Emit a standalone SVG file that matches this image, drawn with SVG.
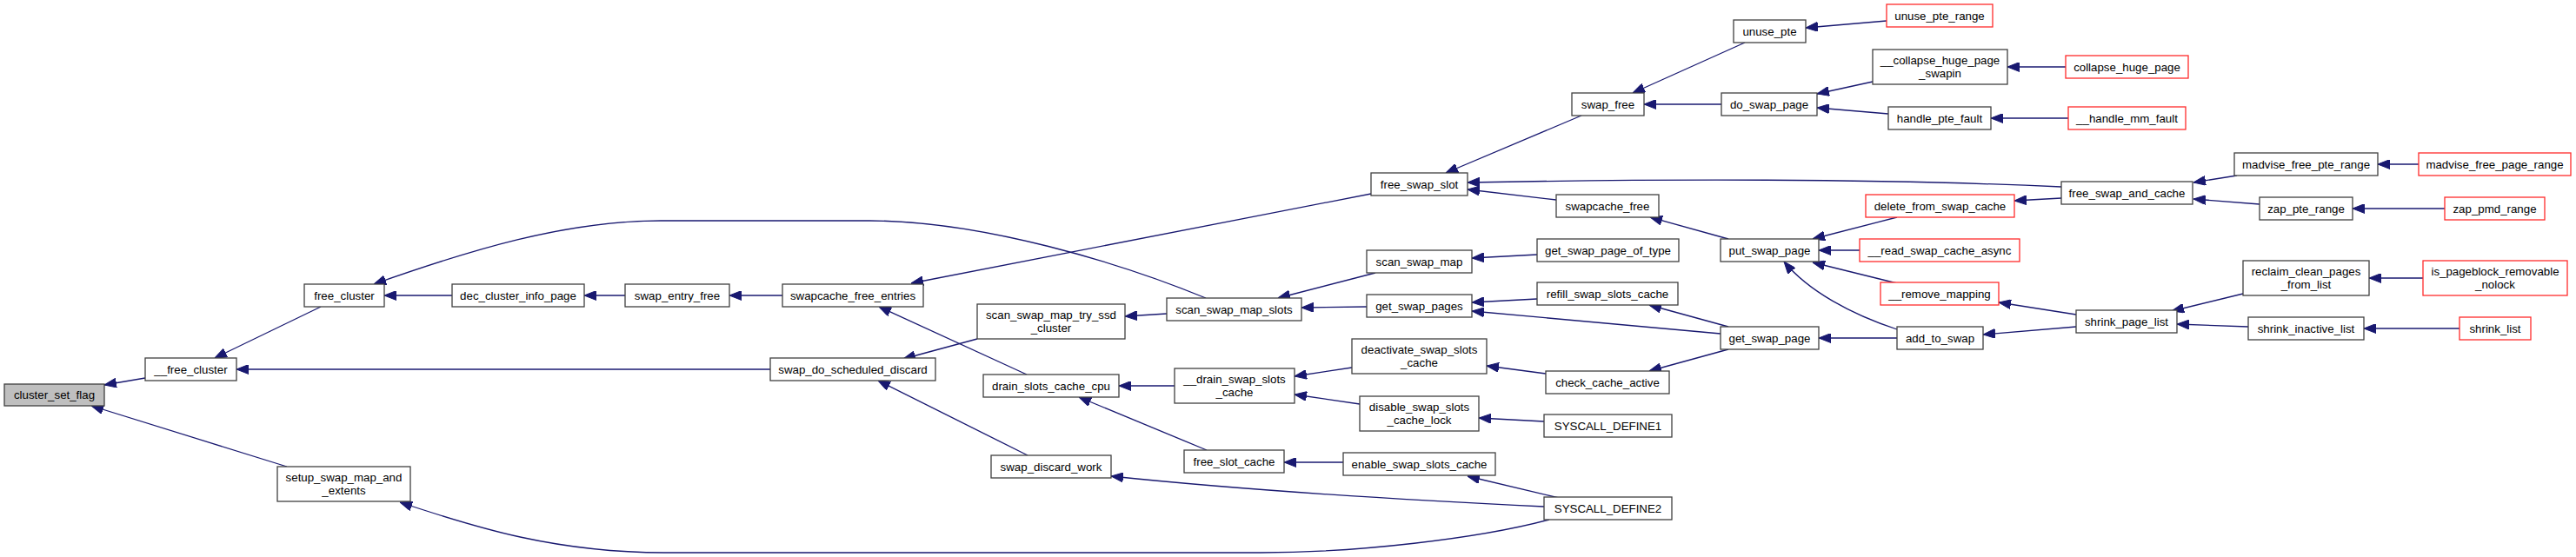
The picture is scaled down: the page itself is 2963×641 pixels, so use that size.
<svg xmlns="http://www.w3.org/2000/svg" width="2963" height="641" viewBox="0 0 2963 641">
<style>
.n rect{fill:#fff;stroke:#404040;stroke-width:1.3}
.n.r rect{stroke:#ff2b2b}
.n.h rect{fill:#bfbfbf}
text{font-family:"Liberation Sans",Arial,sans-serif;font-size:13.3px;text-anchor:middle;fill:#000}
#edges path{fill:none;stroke:#191970;stroke-width:1.3;marker-end:url(#a)}
</style>
<defs>
<marker id="a" markerUnits="userSpaceOnUse" markerWidth="14" markerHeight="11" refX="14" refY="5.5" orient="auto" viewBox="0 0 14 11"><path d="M0,0 L14,5.5 L0,11 z" fill="#191970" stroke="#191970" stroke-width="1"/></marker>
</defs>
<rect width="2963" height="641" fill="#fff"/>
<g id="edges">
<path d="M167,435 L120,443"/>
<path d="M330,537 L105,467"/>
<path d="M369,353 L247,412"/>
<path d="M886,425 L272,425"/>
<path d="M520,340 L442,340"/>
<path d="M1387,343 C1290,303 1130,254 1000,254 L760,254 C650,254 540,288 430,327"/>
<path d="M719,340 L672,340"/>
<path d="M900,340 L839,340"/>
<path d="M1577,223 L1048,326"/>
<path d="M1181,431 L1011,353"/>
<path d="M1124,390 L1039,413"/>
<path d="M1182,524 L1010,438"/>
<path d="M1782,598 C1700,620 1560,636 1450,636 L766,636 C640,636 550,608 460,578"/>
<path d="M1342,361 L1294,364"/>
<path d="M1351,444 L1287,444"/>
<path d="M1388,518 L1241,457"/>
<path d="M1776,583 C1650,577 1450,566 1278,548"/>
<path d="M1582,314 L1470,343"/>
<path d="M1572,353 L1497,354"/>
<path d="M1819,133 L1663,199"/>
<path d="M2371,215 C2150,205 1900,206 1688,210"/>
<path d="M1790,230 L1688,218"/>
<path d="M1768,293 L1693,297"/>
<path d="M1768,344 L1693,348"/>
<path d="M1979,384 L1693,358"/>
<path d="M1555,423 L1489,433"/>
<path d="M1564,465 L1489,454"/>
<path d="M1545,532 L1477,532"/>
<path d="M2007,49 L1878,107"/>
<path d="M1980,120 L1891,120"/>
<path d="M1988,275 L1898,250"/>
<path d="M1988,376 L1897,351"/>
<path d="M1778,430 L1710,421"/>
<path d="M1776,485 L1701,481"/>
<path d="M1793,573 L1688,548"/>
<path d="M1988,402 L1897,427"/>
<path d="M2170,24 L2077,32"/>
<path d="M2154,94 L2090,108"/>
<path d="M2172,131 L2090,124"/>
<path d="M2182,250 L2085,275"/>
<path d="M2139,288 L2092,288"/>
<path d="M2182,326 L2085,302"/>
<path d="M2182,379 C2130,362 2080,335 2052,301"/>
<path d="M2182,389 L2092,389"/>
<path d="M2376,77 L2309,77"/>
<path d="M2379,136 L2290,136"/>
<path d="M2371,228 L2317,231"/>
<path d="M2388,362 L2299,348"/>
<path d="M2388,376 L2281,385"/>
<path d="M2573,202 L2523,210"/>
<path d="M2599,235 L2523,229"/>
<path d="M2580,338 L2498,358"/>
<path d="M2586,376 L2504,373"/>
<path d="M2782,189 L2735,189"/>
<path d="M2812,240 L2706,240"/>
<path d="M2787,320 L2725,320"/>
<path d="M2829,378 L2719,378"/>
</g>
<g id="n_csf" class="n h"><rect x="5" y="442" width="115" height="25"/><text x="62.5" y="459">cluster_set_flag</text></g>
<g id="n_fc2" class="n"><rect x="167" y="412" width="105" height="26"/><text x="219.5" y="429.5">__free_cluster</text></g>
<g id="n_fc" class="n"><rect x="350" y="327" width="92" height="26"/><text x="396" y="344.5">free_cluster</text></g>
<g id="n_setup" class="n"><rect x="319" y="537" width="153" height="40"/><text x="395.5" y="553.5">setup_swap_map_and</text><text x="395.5" y="568.5">_extents</text></g>
<g id="n_dec" class="n"><rect x="520" y="327" width="152" height="26"/><text x="596" y="344.5">dec_cluster_info_page</text></g>
<g id="n_sef" class="n"><rect x="719" y="327" width="120" height="26"/><text x="779" y="344.5">swap_entry_free</text></g>
<g id="n_sfe" class="n"><rect x="900" y="327" width="162" height="26"/><text x="981" y="344.5">swapcache_free_entries</text></g>
<g id="n_sdsd" class="n"><rect x="886" y="412" width="190" height="26"/><text x="981" y="429.5">swap_do_scheduled_discard</text></g>
<g id="n_ssmtsc" class="n"><rect x="1124" y="350" width="170" height="40"/><text x="1209" y="366.5">scan_swap_map_try_ssd</text><text x="1209" y="381.5">_cluster</text></g>
<g id="n_dscc" class="n"><rect x="1131" y="431" width="156" height="26"/><text x="1209" y="448.5">drain_slots_cache_cpu</text></g>
<g id="n_sdw" class="n"><rect x="1140" y="524" width="138" height="26"/><text x="1209" y="541.5">swap_discard_work</text></g>
<g id="n_ssms" class="n"><rect x="1342" y="343" width="155" height="26"/><text x="1419.5" y="360.5">scan_swap_map_slots</text></g>
<g id="n_dsc" class="n"><rect x="1351" y="424" width="138" height="40"/><text x="1420" y="440.5">__drain_swap_slots</text><text x="1420" y="455.5">_cache</text></g>
<g id="n_fsc" class="n"><rect x="1362" y="518" width="115" height="26"/><text x="1419.5" y="535.5">free_slot_cache</text></g>
<g id="n_fss" class="n"><rect x="1577" y="199" width="111" height="26"/><text x="1632.5" y="216.5">free_swap_slot</text></g>
<g id="n_ssm" class="n"><rect x="1572" y="288" width="121" height="26"/><text x="1632.5" y="305.5">scan_swap_map</text></g>
<g id="n_gsps" class="n"><rect x="1572" y="339" width="121" height="26"/><text x="1632.5" y="356.5">get_swap_pages</text></g>
<g id="n_dssc" class="n"><rect x="1555" y="390" width="155" height="40"/><text x="1632.5" y="406.5">deactivate_swap_slots</text><text x="1632.5" y="421.5">_cache</text></g>
<g id="n_dsscl" class="n"><rect x="1564" y="456" width="137" height="40"/><text x="1632.5" y="472.5">disable_swap_slots</text><text x="1632.5" y="487.5">_cache_lock</text></g>
<g id="n_essc" class="n"><rect x="1545" y="521" width="175" height="26"/><text x="1632.5" y="538.5">enable_swap_slots_cache</text></g>
<g id="n_sf" class="n"><rect x="1808" y="107" width="83" height="26"/><text x="1849.5" y="124.5">swap_free</text></g>
<g id="n_scf" class="n"><rect x="1790" y="224" width="118" height="26"/><text x="1849" y="241.5">swapcache_free</text></g>
<g id="n_gspot" class="n"><rect x="1768" y="275" width="163" height="26"/><text x="1849.5" y="292.5">get_swap_page_of_type</text></g>
<g id="n_rssc" class="n"><rect x="1768" y="325" width="162" height="26"/><text x="1849" y="342.5">refill_swap_slots_cache</text></g>
<g id="n_cca" class="n"><rect x="1778" y="427" width="142" height="26"/><text x="1849" y="444.5">check_cache_active</text></g>
<g id="n_sd1" class="n"><rect x="1776" y="477" width="147" height="26"/><text x="1849.5" y="494.5">SYSCALL_DEFINE1</text></g>
<g id="n_sd2" class="n"><rect x="1776" y="572" width="147" height="26"/><text x="1849.5" y="589.5">SYSCALL_DEFINE2</text></g>
<g id="n_up" class="n"><rect x="1994" y="23" width="83" height="26"/><text x="2035.5" y="40.5">unuse_pte</text></g>
<g id="n_dsp" class="n"><rect x="1980" y="107" width="110" height="26"/><text x="2035" y="124.5">do_swap_page</text></g>
<g id="n_psp" class="n"><rect x="1979" y="275" width="113" height="26"/><text x="2035.5" y="292.5">put_swap_page</text></g>
<g id="n_gsp" class="n"><rect x="1979" y="376" width="113" height="26"/><text x="2035.5" y="393.5">get_swap_page</text></g>
<g id="n_upr" class="n r"><rect x="2170" y="5" width="122" height="26"/><text x="2231" y="22.5">unuse_pte_range</text></g>
<g id="n_chps" class="n"><rect x="2154" y="57" width="155" height="40"/><text x="2231.5" y="73.5">__collapse_huge_page</text><text x="2231.5" y="88.5">_swapin</text></g>
<g id="n_hpf" class="n"><rect x="2172" y="123" width="118" height="26"/><text x="2231" y="140.5">handle_pte_fault</text></g>
<g id="n_dfsc" class="n r"><rect x="2146" y="224" width="171" height="26"/><text x="2231.5" y="241.5">delete_from_swap_cache</text></g>
<g id="n_rsca" class="n r"><rect x="2139" y="275" width="184" height="26"/><text x="2231" y="292.5">__read_swap_cache_async</text></g>
<g id="n_rm" class="n r"><rect x="2163" y="325" width="136" height="26"/><text x="2231" y="342.5">__remove_mapping</text></g>
<g id="n_ats" class="n"><rect x="2182" y="376" width="99" height="26"/><text x="2231.5" y="393.5">add_to_swap</text></g>
<g id="n_chp" class="n r"><rect x="2376" y="64" width="141" height="26"/><text x="2446.5" y="81.5">collapse_huge_page</text></g>
<g id="n_hmf" class="n r"><rect x="2379" y="123" width="135" height="26"/><text x="2446.5" y="140.5">__handle_mm_fault</text></g>
<g id="n_fsac" class="n"><rect x="2371" y="209" width="151" height="26"/><text x="2446.5" y="226.5">free_swap_and_cache</text></g>
<g id="n_spl" class="n"><rect x="2388" y="357" width="116" height="26"/><text x="2446" y="374.5">shrink_page_list</text></g>
<g id="n_mfpr" class="n"><rect x="2570" y="176" width="165" height="26"/><text x="2652.5" y="193.5">madvise_free_pte_range</text></g>
<g id="n_mfpgr" class="n r"><rect x="2782" y="176" width="175" height="26"/><text x="2869.5" y="193.5">madvise_free_page_range</text></g>
<g id="n_zpr" class="n"><rect x="2599" y="227" width="107" height="26"/><text x="2652.5" y="244.5">zap_pte_range</text></g>
<g id="n_zpmd" class="n r"><rect x="2812" y="227" width="115" height="26"/><text x="2869.5" y="244.5">zap_pmd_range</text></g>
<g id="n_rcpl" class="n"><rect x="2580" y="300" width="145" height="40"/><text x="2652.5" y="316.5">reclaim_clean_pages</text><text x="2652.5" y="331.5">_from_list</text></g>
<g id="n_ipr" class="n r"><rect x="2787" y="300" width="166" height="40"/><text x="2870" y="316.5">is_pageblock_removable</text><text x="2870" y="331.5">_nolock</text></g>
<g id="n_sil" class="n"><rect x="2586" y="365" width="133" height="26"/><text x="2652.5" y="382.5">shrink_inactive_list</text></g>
<g id="n_sl" class="n r"><rect x="2829" y="365" width="82" height="26"/><text x="2870" y="382.5">shrink_list</text></g>
</svg>
